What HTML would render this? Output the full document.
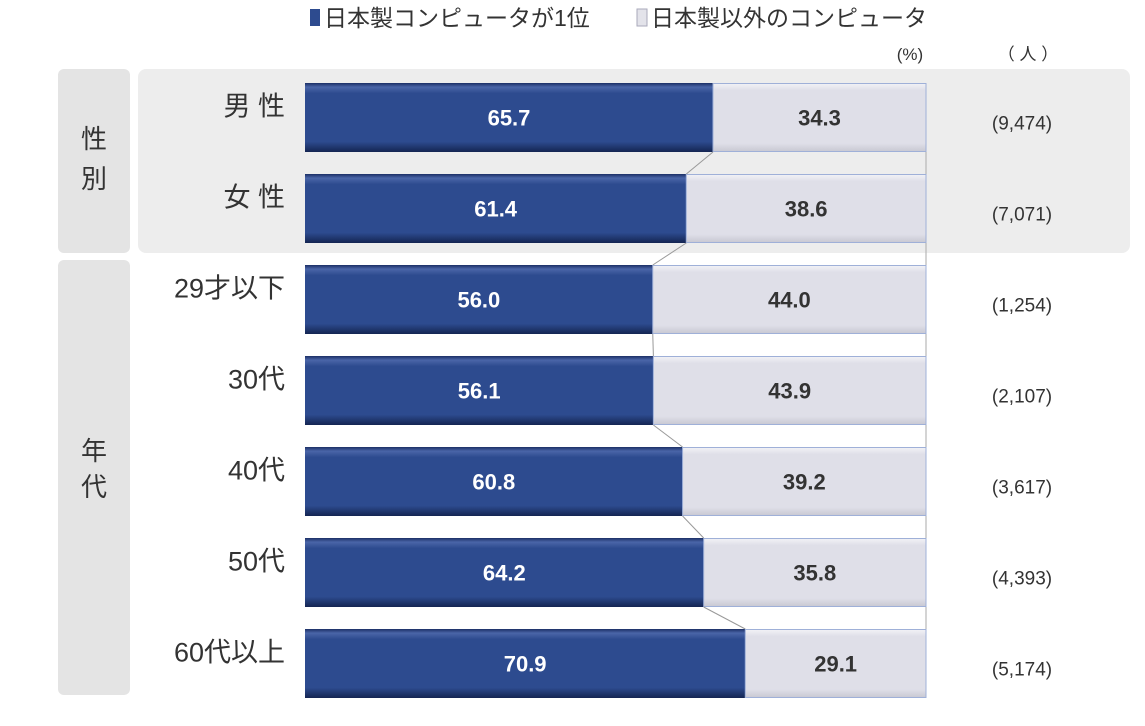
<!DOCTYPE html>
<html><head><meta charset="utf-8"><style>
body{margin:0;background:#fff;width:1145px;height:721px;overflow:hidden;font-family:"Liberation Sans","Noto Sans CJK JP",sans-serif}
</style></head><body>
<svg id="c" width="1145" height="721" xmlns="http://www.w3.org/2000/svg">
<defs>
<linearGradient id="gb" x1="0" y1="0" x2="0" y2="1"><stop offset="0" stop-color="#1c2f66"/><stop offset="0.06" stop-color="#4a65a8"/><stop offset="0.15" stop-color="#2d4b8f"/><stop offset="0.85" stop-color="#2d4b8f"/><stop offset="1" stop-color="#142552"/></linearGradient>
<linearGradient id="gl" x1="0" y1="0" x2="0" y2="1"><stop offset="0" stop-color="#f2f2f6"/><stop offset="0.1" stop-color="#dfdfe8"/><stop offset="0.88" stop-color="#dfdfe8"/><stop offset="1" stop-color="#c8c8d2"/></linearGradient>
</defs>
<rect x="138" y="69" width="992" height="184" rx="8" fill="#ededed"/>
<rect x="58" y="69" width="72" height="184" rx="6" fill="#e4e4e4"/>
<rect x="58" y="260" width="72" height="435" rx="6" fill="#e4e4e4"/>
<text x="94" y="148" font-size="26" text-anchor="middle" fill="#333">性</text>
<text x="94" y="188" font-size="26" text-anchor="middle" fill="#333">別</text>
<text x="94" y="460" font-size="26" text-anchor="middle" fill="#333">年</text>
<text x="94" y="496" font-size="26" text-anchor="middle" fill="#333">代</text>
<rect x="310" y="9" width="10" height="17" fill="#2d4b8f"/>
<text x="324" y="26" font-size="23" fill="#333">日本製コンピュータが1位</text>
<rect x="637" y="9" width="10" height="17" fill="#e3e3ea" stroke="#aab" stroke-width="1"/>
<text x="651" y="26" font-size="23" fill="#333">日本製以外のコンピュータ</text>
<text x="910" y="60" font-size="17" text-anchor="middle" fill="#333">(%)</text>
<text x="1028" y="60" font-size="17" text-anchor="middle" fill="#333">（ 人 ）</text>
<line x1="926" y1="83" x2="926" y2="698" stroke="#aaa" stroke-width="1"/>
<g id="bars"></g>
</svg>
<script>
const categories=["男 性","女 性","29才以下","30代","40代","50代","60代以上"];
const japanese=[65.7,61.4,56.0,56.1,60.8,64.2,70.9];
const other=[34.3,38.6,44.0,43.9,39.2,35.8,29.1];
const counts=["(9,474)","(7,071)","(1,254)","(2,107)","(3,617)","(4,393)","(5,174)"];
const X0=305,W=621,Y0=83,STEP=91,H=69;
const xs=v=>X0+v/100*W;
const ys=i=>Y0+i*STEP;
const g=document.getElementById('bars');
const NS="http://www.w3.org/2000/svg";
function mk(t,a){const e=document.createElementNS(NS,t);for(const k in a)e.setAttribute(k,a[k]);g.appendChild(e);return e;}
categories.forEach((c,i)=>{
  const y=ys(i),xm=xs(japanese[i]),xe=xs(japanese[i]+other[i]);
  if(i>0){const l=mk('line',{x1:xs(japanese[i-1]),y1:ys(i-1)+H,x2:xm,y2:y,stroke:'#999','stroke-width':1});
    
    }
  const b=mk('rect',{x:X0,y:y,width:xm-X0,height:H,fill:'url(#gb)'});
  
  
  const o=mk('rect',{x:xm,y:y+0.5,width:xe-xm,height:H-1,fill:'url(#gl)',stroke:'#9fb0d8','stroke-width':1});
  
  
  const t1=mk('text',{x:(X0+xm)/2,y:y+H/2+8,'font-size':22,'font-weight':'bold','text-anchor':'middle',fill:'#fff'});
  t1.textContent=japanese[i].toFixed(1);
  
  
  const t2=mk('text',{x:(xm+xe)/2,y:y+H/2+8,'font-size':22,'font-weight':'bold','text-anchor':'middle',fill:'#333'});
  t2.textContent=other[i].toFixed(1);
  
  
  const lb=mk('text',{x:285,y:y+H/2-2,'font-size':27,'text-anchor':'end',fill:'#333'});
  lb.textContent=c;
  
  
  const ct=mk('text',{x:1022,y:y+H/2+12,'font-size':19,'text-anchor':'middle',fill:'#333'});
  ct.textContent=counts[i];
  
  
});
</script>
</body></html>
